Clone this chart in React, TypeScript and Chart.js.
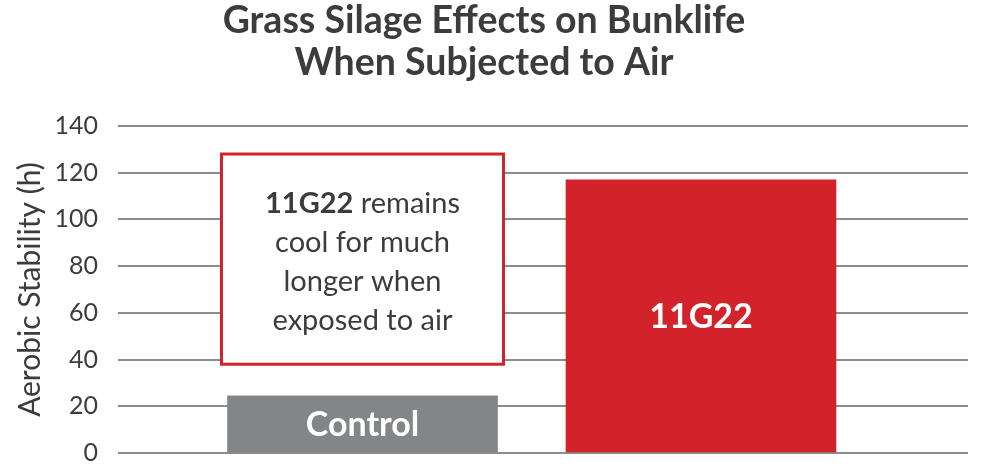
import React, { useEffect, useRef } from 'react';
import Chart from 'chart.js/auto';

// data
const categories = ['Control', '11G22'];
const stability = [24.5, 117];
const barColors = ['#848587', '#d2232a'];
const yMin = 0;
const yMax = 140;
const yStep = 20;
const titleLines = ['Grass Silage Effects on Bunklife', 'When Subjected to Air'];
const yTitle = 'Aerobic Stability (h)';

// call-out over the Control bar (axis units)
const noteTop = 128;
const noteBottom = 38;
const noteBold = '11G22';
const noteLines = ['11G22 remains', 'cool for much', 'longer when', 'exposed to air'];

const FONT = 'Lato, "Open Sans", sans-serif';
const TEXT = '#3c3c3c';
const RED = '#d2232a';

const barTextPlugin = {
    id: 'barText',
    afterDatasetsDraw(chart: any) {
        const { ctx } = chart;
        const yScale = chart.scales.y;
        const meta = chart.getDatasetMeta(0);
        ctx.save();

        // names inside the bars
        ctx.fillStyle = '#fff';
        ctx.font = `bold 34px ${FONT}`;
        ctx.textAlign = 'center';
        ctx.textBaseline = 'middle';
        meta.data.forEach((bar: any, i: number) => {
            const p = bar.getProps(['x', 'y', 'base'], true);
            ctx.fillText(categories[i], p.x, (p.y + p.base) / 2 + 1);
        });

        // the note box
        const first = meta.data[0].getProps(['x', 'width'], true);
        const half = first.width / 2 + 6;
        const top = yScale.getPixelForValue(noteTop);
        const bottom = yScale.getPixelForValue(noteBottom);
        ctx.fillStyle = '#fff';
        ctx.fillRect(first.x - half, top, half * 2, bottom - top);
        ctx.strokeStyle = RED;
        ctx.lineWidth = 3;
        ctx.strokeRect(first.x - half, top, half * 2, bottom - top);

        const lineH = 39;
        const cy = (top + bottom) / 2 + 3;
        ctx.fillStyle = TEXT;
        ctx.textAlign = 'left';
        noteLines.forEach((line, i) => {
            const ly = cy + (i - (noteLines.length - 1) / 2) * lineH;
            let boldPart = '';
            let rest = line;
            if (line.startsWith(noteBold)) {
                boldPart = noteBold;
                rest = line.slice(noteBold.length);
            }
            ctx.font = `bold 29px ${FONT}`;
            const wb = ctx.measureText(boldPart).width;
            ctx.font = `29px ${FONT}`;
            const wr = ctx.measureText(rest).width;
            const x0 = first.x - (wb + wr) / 2;
            ctx.font = `bold 29px ${FONT}`;
            ctx.fillText(boldPart, x0, ly);
            ctx.font = `29px ${FONT}`;
            ctx.fillText(rest, x0 + wb, ly);
        });

        ctx.restore();
    }
};

const App: React.FC = () => {
    const canvasRef = useRef<HTMLCanvasElement | null>(null);

    useEffect(() => {
        document.body.style.margin = '0';
        const ctx = canvasRef.current?.getContext('2d');
        if (!ctx) return;

        const chart = new Chart(ctx, {
            type: 'bar',
            data: {
                datasets: [
                    {
                        label: yTitle,
                        data: stability.map((v, i) => ({ x: i, y: v })),
                        backgroundColor: barColors,
                        borderWidth: 0,
                        barThickness: 'flex',
                        barPercentage: 0.7976,
                        categoryPercentage: 1
                    }
                ]
            },
            options: {
                animation: false,
                responsive: false,
                devicePixelRatio: 1,
                events: [],
                layout: { padding: { left: 0, right: 24, top: 0, bottom: 0 } },
                plugins: {
                    legend: { display: false },
                    tooltip: { enabled: false },
                    title: {
                        display: true,
                        text: titleLines,
                        color: TEXT,
                        font: { family: FONT, size: 37.5, weight: 'bold', lineHeight: 1.12 },
                        padding: { top: 0, bottom: 42 }
                    }
                },
                scales: {
                    x: {
                        type: 'linear',
                        display: false,
                        bounds: 'data',
                        offset: false,
                        min: -0.7223,
                        max: 1.7888,
                        ticks: { stepSize: 1, includeBounds: false }
                    },
                    y: {
                        min: yMin,
                        max: yMax,
                        ticks: {
                            stepSize: yStep,
                            color: TEXT,
                            padding: 20,
                            font: { family: FONT, size: 25 }
                        },
                        grid: { color: '#8c8c8c', lineWidth: 2, drawTicks: false },
                        border: { display: false },
                        title: {
                            display: true,
                            text: yTitle,
                            color: TEXT,
                            font: { family: FONT, size: 30 },
                            padding: { top: 12, bottom: 0 }
                        },
                        afterFit: (axis: any) => {
                            axis.width = 118;
                            axis.paddingBottom = 20;
                        }
                    }
                }
            },
            plugins: [barTextPlugin]
        });

        return () => {
            chart.destroy();
        };
    }, []);

    return <canvas ref={canvasRef} width={992} height={473} style={{ display: 'block' }} />;
};

export default App;
